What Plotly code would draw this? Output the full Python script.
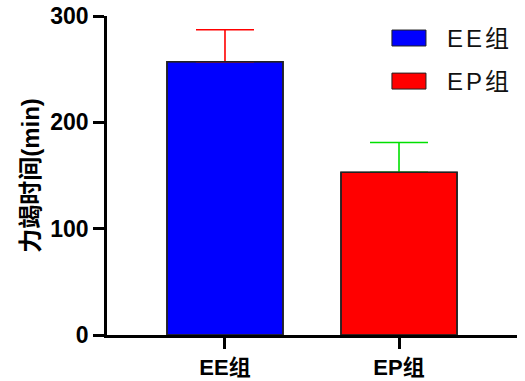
import plotly.graph_objects as go

categories = ["EE组", "EP组"]
means = [257, 153]
errors = [30, 28]
bar_colors = ["#0000FF", "#FF0000"]
err_colors = ["#FF0000", "#00E000"]
legend_labels = ["EE组", "EP组"]
y_title = "力竭时间(min)"
y_ticks = [0, 100, 200, 300]

FONT = "Arial, 'Liberation Sans', 'Noto Sans CJK SC', sans-serif"

fig = go.Figure()
for i, cat in enumerate(categories):
    fig.add_trace(go.Bar(
        x=[cat], y=[means[i]],
        width=0.667,
        marker=dict(color=bar_colors[i], line=dict(color="#222222", width=1.2)),
        error_y=dict(type="data", symmetric=False, array=[errors[i]], arrayminus=[0],
                     color=err_colors[i], thickness=1.6, width=29),
        showlegend=False,
    ))
# outline pass drawn above the error-bar bases
for i, cat in enumerate(categories):
    fig.add_trace(go.Bar(
        x=[cat], y=[means[i]],
        width=0.667,
        marker=dict(color="rgba(0,0,0,0)", line=dict(color="#222222", width=1.6)),
        showlegend=False, hoverinfo="skip",
    ))

# custom legend (boxes + labels)
box_tops = [0.956, 0.821]
for i, lab in enumerate(legend_labels):
    y1 = box_tops[i]
    fig.add_shape(type="rect", xref="paper", yref="paper",
                  x0=0.695, x1=0.778, y0=y1 - 0.05, y1=y1,
                  fillcolor=bar_colors[i], line=dict(color="#222222", width=1))
    fig.add_annotation(xref="paper", yref="paper", x=0.824, y=y1 - 0.025,
                       xanchor="left", yanchor="middle", showarrow=False,
                       text=f'<span style="letter-spacing:3px">{lab}</span>',
                       font=dict(family=FONT, size=24, color="#111111"))

fig.update_layout(
    width=525, height=381,
    margin=dict(l=107, r=8, t=16, b=46),
    paper_bgcolor="white", plot_bgcolor="white",
    barmode="overlay",
    font=dict(family=FONT, color="#000000"),
    xaxis=dict(
        range=[-0.678, 1.678],
        automargin=False,
        showline=True, linecolor="#000000", linewidth=2.5,
        ticks="outside", ticklen=11, tickwidth=2.5, tickcolor="#000000",
        tickfont=dict(family=FONT, size=22, color="#000000", weight="bold"),
        showgrid=False, zeroline=False,
    ),
    yaxis=dict(
        range=[0, 300],
        automargin=False,
        tickvals=y_ticks,
        showline=True, linecolor="#000000", linewidth=2.5,
        ticks="outside", ticklen=11, tickwidth=2.5, tickcolor="#000000",
        tickfont=dict(family=FONT, size=23, color="#000000", weight="bold"),
        showgrid=False, zeroline=False,
        title=dict(text=y_title, font=dict(family=FONT, size=24, color="#000000", weight="bold"),
                   standoff=4),
    ),
)

fig.write_html("out.html")
